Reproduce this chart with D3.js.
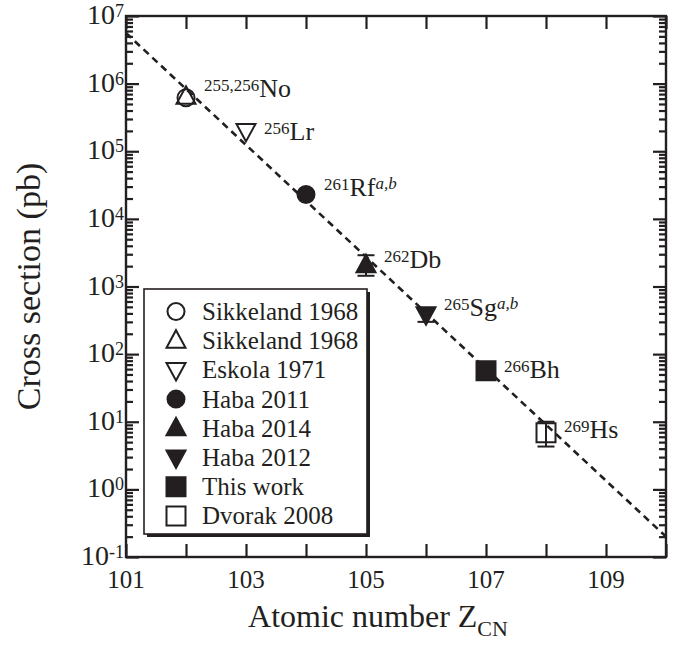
<!DOCTYPE html>
<html>
<head>
<meta charset="utf-8">
<script src="https://cdn.jsdelivr.net/npm/d3@7"></script>
<style>
  html, body { margin: 0; padding: 0; background: #fff; }
  svg { display: block; font-family: "Liberation Serif", "Times New Roman", serif; }
</style>
</head>
<body>
<svg id="chart" width="685" height="655"></svg>
<script>
// Evaporation-residue cross sections vs. compound-nucleus atomic number
const zCN      = [102, 102, 103, 104, 105, 106, 107, 108];
const series   = ["Sikkeland 1968", "Sikkeland 1968", "Eskola 1971", "Haba 2011",
                  "Haba 2014", "Haba 2012", "This work", "Dvorak 2008"];
const sigmaPb  = [6.2e5, 6.4e5, 2.0e5, 2.3e4, 2.07e3, 390, 57, 6.9];
const errLowPb = [null, null, null, null, 1.44e3, 300, null, 4.3];
const errUpPb  = [null, null, null, null, 2.9e3, 470, null, 10];

// Nuclide annotations
const labelZ    = [102, 103, 104, 105, 106, 107, 108];
const labelMass = ["255,256", "256", "261", "262", "265", "266", "269"];
const labelSym  = ["No", "Lr", "Rf", "Db", "Sg", "Bh", "Hs"];
const labelNote = ["", "", "a,b", "", "a,b", "", ""];

// Systematic trend (dashed line) end points
const trendZ     = [101, 110];
const trendSigma = [5.6e6, 0.2];

// Axis ticks
const xTicks      = [101, 102, 103, 104, 105, 106, 107, 108, 109, 110];
const xTickLabels = ["101", "", "103", "", "105", "", "107", "", "109", ""];
const yExponents  = [-1, 0, 1, 2, 3, 4, 5, 6, 7];

// ---------------------------------------------------------------
const svg = d3.select("#chart");
const ink = "#231f20";
const plotL = 126, plotR = 666, plotT = 16, plotB = 557;

const x = d3.scaleLinear().domain([101, 110]).range([plotL, plotR]);
const y = d3.scaleLog().domain([0.1, 1e7]).range([plotB, plotT]);

const majorY = yExponents.map(e => Math.pow(10, e));
const minorY = [];
yExponents.slice(0, -1).forEach(e => {
  for (let m = 2; m <= 9; m++) minorY.push(m * Math.pow(10, e));
});

function styleAxis(g) {
  g.select(".domain").remove();
  g.selectAll(".tick line").attr("stroke", ink).attr("stroke-width", 2.2);
  g.selectAll(".tick text").remove();
}

// y axes (left and right), ticks pointing inward
svg.append("g").attr("transform", `translate(${plotL},0)`)
  .call(d3.axisLeft(y).tickValues(majorY).tickSize(-13).tickFormat("")).call(styleAxis);
svg.append("g").attr("transform", `translate(${plotL},0)`)
  .call(d3.axisLeft(y).tickValues(minorY).tickSize(-7).tickFormat("")).call(styleAxis);
svg.append("g").attr("transform", `translate(${plotR},0)`)
  .call(d3.axisRight(y).tickValues(majorY).tickSize(-13).tickFormat("")).call(styleAxis);
svg.append("g").attr("transform", `translate(${plotR},0)`)
  .call(d3.axisRight(y).tickValues(minorY).tickSize(-7).tickFormat("")).call(styleAxis);

// x axes (bottom and top)
svg.append("g").attr("transform", `translate(0,${plotB})`)
  .call(d3.axisBottom(x).tickValues(xTicks).tickSize(-13).tickFormat("")).call(styleAxis);
svg.append("g").attr("transform", `translate(0,${plotT})`)
  .call(d3.axisTop(x).tickValues(xTicks).tickSize(-13).tickFormat("")).call(styleAxis);

// frame
svg.append("rect")
  .attr("x", plotL).attr("y", plotT)
  .attr("width", plotR - plotL).attr("height", plotB - plotT)
  .attr("fill", "none").attr("stroke", ink).attr("stroke-width", 2.4);

// y tick labels: 10^n
yExponents.forEach(e => {
  const t = svg.append("text")
    .attr("x", 124).attr("y", y(Math.pow(10, e)) + 8)
    .attr("text-anchor", "end").attr("fill", ink)
    .style("font-size", "28px");
  t.append("tspan").text("10");
  t.append("tspan").attr("dy", -7).style("font-size", "18px").text(String(e));
});

// x tick labels
xTicks.forEach((v, i) => {
  if (!xTickLabels[i]) return;
  svg.append("text")
    .attr("x", x(v)).attr("y", 588)
    .attr("text-anchor", "middle").attr("fill", ink)
    .style("font-size", "25px").text(xTickLabels[i]);
});

// axis titles
svg.append("text")
  .attr("transform", `translate(40,${(plotT + plotB) / 2}) rotate(-90)`)
  .attr("text-anchor", "middle").attr("fill", ink)
  .style("font-size", "34px").text("Cross section (pb)");

const xt = svg.append("text")
  .attr("x", 378).attr("y", 627)
  .attr("text-anchor", "middle").attr("fill", ink)
  .style("font-size", "32px");
xt.append("tspan").text("Atomic number Z");
xt.append("tspan").attr("dy", 9).style("font-size", "22px").text("CN");

// trend line
svg.append("path")
  .datum(trendZ.map((z, i) => [z, trendSigma[i]]))
  .attr("d", d3.line().x(d => x(d[0])).y(d => y(d[1])))
  .attr("fill", "none").attr("stroke", ink)
  .attr("stroke-width", 2.6).attr("stroke-dasharray", "7,5");

// marker shapes
const shapeOf  = ["circle", "triUp", "triDown", "circle", "triUp", "triDown", "square", "square"];
const filledOf = [false, false, false, true, true, true, true, false];

function markerPath(shape) {
  if (shape === "circle") {
    const p = d3.path();
    p.arc(0, 0, 8.5, 0, 2 * Math.PI);
    p.closePath();
    return p.toString();
  }
  if (shape === "triUp")   return "M0,-10.5L9.5,7L-9.5,7Z";
  if (shape === "triDown") return "M0,10.5L9.5,-7L-9.5,-7Z";
  return "M-9.5,-9.5H9.5V9.5H-9.5Z";
}

// error bars
zCN.forEach((z, i) => {
  if (errLowPb[i] == null) return;
  const g = svg.append("g").attr("stroke", ink).attr("stroke-width", 2);
  g.append("line").attr("x1", x(z)).attr("x2", x(z))
    .attr("y1", y(errLowPb[i])).attr("y2", y(errUpPb[i]));
  [errLowPb[i], errUpPb[i]].forEach(v => {
    g.append("line").attr("x1", x(z) - 8.5).attr("x2", x(z) + 8.5)
      .attr("y1", y(v)).attr("y2", y(v));
  });
});

// data points
zCN.forEach((z, i) => {
  svg.append("path")
    .attr("transform", `translate(${x(z)},${y(sigmaPb[i])})`)
    .attr("d", markerPath(shapeOf[i]))
    .attr("fill", filledOf[i] ? ink : "none")
    .attr("stroke", ink).attr("stroke-width", 2);
});

// nuclide labels
const labelDy = [0, 9, 2, 3, 2, 7, 5];
labelZ.forEach((z, i) => {
  const idx = zCN.lastIndexOf(z);
  const t = svg.append("text")
    .attr("x", x(z) + 18).attr("y", y(sigmaPb[idx]) + labelDy[i])
    .attr("fill", ink).style("font-size", "26px");
  t.append("tspan").attr("dy", -6).style("font-size", "17px").text(labelMass[i]);
  t.append("tspan").attr("dy", 6).text(labelSym[i]);
  if (labelNote[i]) {
    t.append("tspan").attr("dy", -7).style("font-size", "17px")
      .style("font-style", "italic").text(labelNote[i]);
  }
});

// legend
const lg = svg.append("g");
lg.append("rect").attr("x", 147).attr("y", 292).attr("width", 223).attr("height", 245).attr("fill", ink);
lg.append("rect").attr("x", 144).attr("y", 289).attr("width", 223).attr("height", 245)
  .attr("fill", "#fff").attr("stroke", ink).attr("stroke-width", 1.6);
series.forEach((s, i) => {
  const cy = 311.5 + i * 29.2;
  lg.append("path")
    .attr("transform", `translate(176,${cy})`)
    .attr("d", markerPath(shapeOf[i]))
    .attr("fill", filledOf[i] ? ink : "none")
    .attr("stroke", ink).attr("stroke-width", 2);
  lg.append("text").attr("x", 202).attr("y", cy + 8.5)
    .attr("fill", ink).style("font-size", "25px").text(s);
});
</script>
</body>
</html>
